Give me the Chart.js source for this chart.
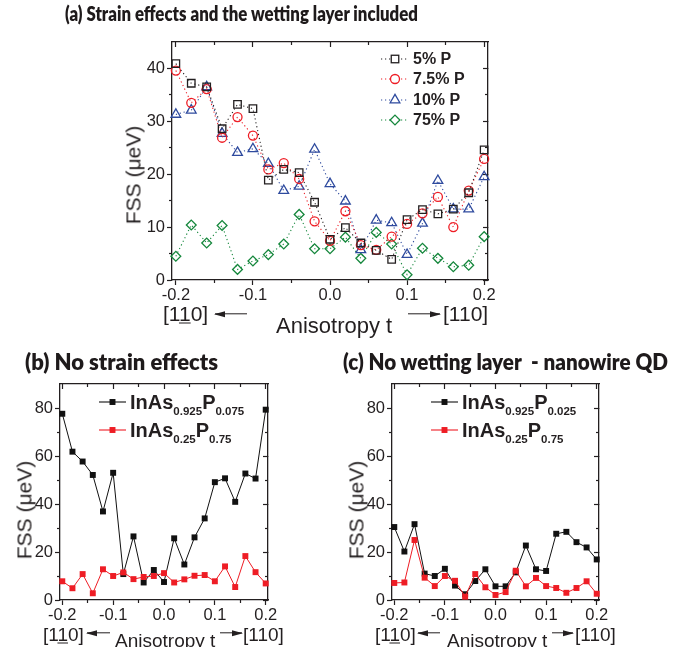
<!DOCTYPE html>
<html>
<head>
<meta charset="utf-8">
<script src="https://cdn.jsdelivr.net/npm/chart.js@4.4.1/dist/chart.umd.min.js"></script>
<style>
html,body{margin:0;padding:0;background:#fff;}
#wrap{position:relative;width:685px;height:647px;overflow:hidden;font-family:Arial,"Liberation Sans",sans-serif;color:#231f20;}
#wrap canvas{position:absolute;left:0;top:0;}
.tx{position:absolute;white-space:pre;line-height:1;transform:translateY(-50%);}
.ttl{position:absolute;white-space:pre;line-height:1;font-family:Lato,sans-serif;font-weight:800;font-size:21px;transform-origin:0 50%;color:#1e1a1b;}
.yt{position:absolute;white-space:nowrap;line-height:1;font-size:21px;transform:translate(-50%,-50%) rotate(-90deg);}
.arr{position:absolute;height:1.4px;background:#231f20;transform:translateY(-50%);}
.arr::after{content:"";position:absolute;top:50%;transform:translateY(-50%);border-top:3.5px solid transparent;border-bottom:3.5px solid transparent;}
.arr.l::after{left:-1px;border-right:11px solid #231f20;}
.arr.r::after{right:-1px;border-left:11px solid #231f20;}
.lg{position:absolute;display:flex;align-items:center;transform:translateY(-50%);font-weight:700;white-space:nowrap;line-height:1;}
.lg svg{margin-right:4px;display:block;}
.sb{font-size:11.5px;position:relative;top:6px;}
u{text-underline-offset:2px;text-decoration-thickness:1.3px;}
</style>
</head>
<body>
<div id="wrap">
<canvas id="ca" width="685" height="647"></canvas>
<canvas id="cb" width="685" height="647"></canvas>
<canvas id="cc" width="685" height="647"></canvas>

<div class="ttl" id="ta" style="left:65px;top:14px;font-size:21.5px">(a) Strain effects and the wetting layer included</div>
<div class="ttl" id="tb" style="left:25px;top:362px;font-size:22px">(b) No strain effects</div>
<div class="ttl" id="tc" style="left:343px;top:362px;font-size:22px">(c) No wetting layer  - nanowire QD</div>

<div class="yt" style="left:133px;top:175px">FSS (μeV)</div>
<div class="yt" style="left:24px;top:510px">FSS (μeV)</div>
<div class="yt" style="left:356px;top:510px">FSS (μeV)</div>

<div class="tx" style="left:163px;top:313px;font-size:21px">[1<u>1</u>0]</div>
<div class="arr l" style="left:215px;top:314px;width:32px"></div>
<div class="tx" style="left:276px;top:326px;font-size:22px">Anisotropy t</div>
<div class="arr r" style="left:408px;top:314px;width:32px"></div>
<div class="tx" style="left:443px;top:313px;font-size:21px">[110]</div>

<div class="tx" style="left:43px;top:634px;font-size:19px">[1<u>1</u>0]</div>
<div class="arr l" style="left:87px;top:633px;width:23px"></div>
<div class="tx" style="left:115px;top:640px;font-size:19px">Anisotropy t</div>
<div class="arr r" style="left:220px;top:633px;width:22px"></div>
<div class="tx" style="left:243px;top:634px;font-size:19px">[110]</div>

<div class="tx" style="left:375px;top:634px;font-size:19px">[1<u>1</u>0]</div>
<div class="arr l" style="left:418px;top:633px;width:22px"></div>
<div class="tx" style="left:447px;top:640px;font-size:19px">Anisotropy t</div>
<div class="arr r" style="left:552px;top:633px;width:21px"></div>
<div class="tx" style="left:575px;top:634px;font-size:19px">[110]</div>
</div>

<script>
// ---------- data ----------
const T = [-0.2, -0.18, -0.16, -0.14, -0.12, -0.1, -0.08, -0.06, -0.04, -0.02, 0, 0.02, 0.04, 0.06, 0.08, 0.1, 0.12, 0.14, 0.16, 0.18, 0.2];
const X_MAJOR = [-0.2, -0.1, 0, 0.1, 0.2];
const X_MINOR = [-0.15, -0.05, 0.05, 0.15];
const YA_MAJOR = [0, 10, 20, 30, 40];
const YA_MINOR = [5, 15, 25, 35];
const YB_MAJOR = [0, 20, 40, 60, 80];
const YB_MINOR = [10, 30, 50, 70];

// (a) Strain effects and the wetting layer included
const A_LABELS = ['5% P', '7.5% P', '10% P', '75% P'];
const A_P5   = [40.9, 37.2, 36.5, 28.6, 33.2, 32.4, 18.9, 20.9, 20.3, 14.7, 7.7, 9.9, 7.0, 5.6, 3.9, 11.4, 13.3, 12.5, 13.4, 16.5, 24.6];
const A_P7_5 = [39.6, 33.5, 36.1, 26.9, 30.8, 27.3, 20.9, 22.1, 19.1, 11.1, 7.4, 13.0, 6.6, 5.7, 8.2, 10.6, 12.6, 15.7, 10.0, 16.9, 22.9];
const A_P10  = [31.3, 32.1, 36.5, 27.7, 24.1, 24.8, 22.0, 16.9, 17.7, 24.7, 18.2, 14.9, 5.7, 11.3, 10.8, 4.8, 10.7, 18.8, 13.4, 13.4, 19.5];
const A_P75  = [4.5, 10.4, 7.0, 10.3, 2.0, 3.6, 4.8, 6.8, 12.4, 5.9, 5.9, 8.1, 4.1, 9.0, 6.8, 1.0, 6.0, 4.1, 2.5, 2.8, 8.2];

// (b) No strain effects
const B_LABELS = [['InAs', '0.925', 'P', '0.075'], ['InAs', '0.25', 'P', '0.75']];
const B_HIGH_AS = [77.6, 61.8, 57.7, 52.1, 36.9, 53.0, 10.8, 26.5, 7.3, 12.5, 7.5, 25.7, 14.8, 26.1, 34.0, 49.1, 50.7, 40.9, 52.7, 50.6, 79.3];
const B_HIGH_P  = [7.8, 4.9, 10.8, 2.8, 12.8, 10.0, 11.5, 8.7, 9.6, 10.0, 11.2, 7.3, 8.6, 10.1, 10.4, 7.8, 14.0, 5.4, 18.3, 11.6, 6.9];

// (c) No wetting layer - nanowire QD
const C_LABELS = [['InAs', '0.925', 'P', '0.025'], ['InAs', '0.25', 'P', '0.75']];
const C_HIGH_AS = [30.4, 20.2, 31.6, 11.0, 10.0, 13.0, 6.0, 2.4, 7.9, 12.8, 5.7, 5.7, 11.5, 22.7, 12.8, 12.1, 27.6, 28.4, 24.1, 21.9, 16.9];
const C_HIGH_P  = [7.1, 7.3, 25.0, 9.3, 5.8, 10.0, 8.0, 1.4, 10.8, 5.3, 2.1, 3.3, 12.2, 5.7, 9.2, 5.8, 5.0, 3.0, 5.0, 7.8, 2.6];

// ---------- styles ----------
const FONT = 'Arial, "Liberation Sans", sans-serif';
const INK = '#231f20';
Chart.defaults.font.family = FONT;
Chart.defaults.color = INK;

const A_STYLE = [
  {color: '#231f20', shape: 'rect', r: 5.3},
  {color: '#ee1d25', shape: 'circle', r: 4.5},
  {color: '#2e4a9e', shape: 'triangle', r: 5.6},
  {color: '#15873c', shape: 'rectRot', r: 4.9}
];
const BC_STYLE = [
  {color: '#111111', shape: 'rect', r: 4.2},
  {color: '#ee1d25', shape: 'rect', r: 4.2}
];

const LABEL_BOX = 50;   // room kept for tick labels of the main axes
function axis(pos, range, ticks, tl, labels, weight, border, fmt) {
  const horiz = pos === 'top' || pos === 'bottom';
  const size = labels ? LABEL_BOX : 0;
  return {
    type: 'linear', position: pos, axis: horiz ? 'x' : 'y',
    min: range[0], max: range[1], weight: weight, bounds: 'data',
    afterBuildTicks: s => { s.ticks = ticks.map(v => ({value: v})); },
    afterFit: s => { if (horiz) s.height = size; else s.width = size; },
    grid: {display: true, drawOnChartArea: false, drawTicks: true, tickLength: tl,
           color: INK, tickColor: INK, tickWidth: 1.2},
    border: {display: border, color: INK, width: 1.3},
    ticks: labels ? {display: true, color: INK, font: {family: FONT, size: 16.5},
                     padding: horiz ? 1 : 2, callback: fmt, autoSkip: false, maxRotation: 0, minRotation: 0}
                  : {display: false}
  };
}
function scalesFor(xr, yr, yMaj, yMin) {
  return {
    x:   axis('bottom', xr, X_MAJOR, 5, true, 2, true, v => v.toFixed(1)),
    xm:  axis('bottom', xr, X_MINOR, 3, false, 1, false),
    xt:  axis('top', xr, X_MAJOR, -5, false, 2, true),
    xtm: axis('top', xr, X_MINOR, -3, false, 1, false),
    y:   axis('left', yr, yMaj, 5, true, 2, true, v => String(v)),
    ym:  axis('left', yr, yMin, 3, false, 1, false),
    yr:  axis('right', yr, yMaj, -5, false, 2, true),
    yrm: axis('right', yr, yMin, -3, false, 1, false)
  };
}
// plot box (left, top, right, bottom) -> layout padding
function pad(l, t, r, b) {
  return {left: l - LABEL_BOX, top: t, right: 685 - r, bottom: 647 - b - LABEL_BOX};
}
function opts(padding, scales) {
  return {
    responsive: false, animation: false, events: [],
    layout: {padding},
    plugins: {legend: {display: false}, tooltip: {enabled: false}},
    scales
  };
}
function series(vals) { return T.map((t, i) => ({x: t, y: vals[i]})); }

// (a)
const A_SERIES = [A_P5, A_P7_5, A_P10, A_P75];
new Chart(document.getElementById('ca'), {
  type: 'scatter',
  data: {datasets: A_SERIES.map((vals, k) => ({
    label: A_LABELS[k], data: series(vals), showLine: true,
    borderColor: A_STYLE[k].color, borderWidth: 1.1, borderDash: [1.2, 2.8],
    pointStyle: A_STYLE[k].shape, pointRadius: A_STYLE[k].r, pointBorderWidth: 1.3,
    pointBorderColor: A_STYLE[k].color, pointBackgroundColor: 'rgba(255,255,255,0)',
    clip: false, order: k
  }))},
  options: opts(pad(172, 42, 488, 280), scalesFor([-0.205, 0.205], [0, 45], YA_MAJOR, YA_MINOR))
});

function bcChart(id, labels, sets, padding) {
  return new Chart(document.getElementById(id), {
    type: 'scatter',
    data: {datasets: sets.map((vals, k) => ({
      label: labels[k].join(''), data: series(vals), showLine: true,
      borderColor: BC_STYLE[k].color, borderWidth: 1,
      pointStyle: BC_STYLE[k].shape, pointRadius: BC_STYLE[k].r, pointBorderWidth: 0,
      pointBackgroundColor: BC_STYLE[k].color, pointBorderColor: BC_STYLE[k].color,
      clip: false, order: 1 - k
    }))},
    options: opts(padding, scalesFor([-0.2045, 0.2045], [0, 90], YB_MAJOR, YB_MINOR))
  });
}
bcChart('cb', B_LABELS, [B_HIGH_AS, B_HIGH_P], pad(60, 384, 268, 600));
bcChart('cc', C_LABELS, [C_HIGH_AS, C_HIGH_P], pad(392, 384, 599, 600));

// ---------- legends (HTML, from the dataset styles) ----------
function markerSvg(st, w, h, filled, dashed) {
  const cx = w / 2, cy = h / 2, r = st.r, c = st.color;
  const fill = filled ? c : '#fff';
  let shape = '';
  if (st.shape === 'rect') {
    const s = r * Math.SQRT2;
    shape = `<rect x="${cx - s / 2}" y="${cy - s / 2}" width="${s}" height="${s}" fill="${fill}" stroke="${c}" stroke-width="${filled ? 0 : 1.3}"/>`;
  } else if (st.shape === 'circle') {
    shape = `<circle cx="${cx}" cy="${cy}" r="${r}" fill="${fill}" stroke="${c}" stroke-width="1.3"/>`;
  } else if (st.shape === 'triangle') {
    const p = [[cx, cy - r], [cx + 0.866 * r, cy + 0.5 * r], [cx - 0.866 * r, cy + 0.5 * r]];
    shape = `<polygon points="${p.map(q => q.join(',')).join(' ')}" fill="${fill}" stroke="${c}" stroke-width="1.3"/>`;
  } else {
    const p = [[cx, cy - r], [cx + r, cy], [cx, cy + r], [cx - r, cy]];
    shape = `<polygon points="${p.map(q => q.join(',')).join(' ')}" fill="${fill}" stroke="${c}" stroke-width="1.3"/>`;
  }
  const line = `<line x1="0" y1="${cy}" x2="${w}" y2="${cy}" stroke="${c}" stroke-width="1.1" ${dashed ? 'stroke-dasharray="1.2 2.8"' : ''}/>`;
  return `<svg width="${w}" height="${h}" viewBox="0 0 ${w} ${h}">${line}${shape}</svg>`;
}
const wrap = document.getElementById('wrap');
function addRow(left, top, html, size) {
  const d = document.createElement('div');
  d.className = 'lg';
  d.style.left = left + 'px'; d.style.top = top + 'px'; d.style.fontSize = size + 'px';
  d.innerHTML = html;
  wrap.appendChild(d);
}
const A_ROWS = [59, 79, 100, 120];
A_LABELS.forEach((lab, k) => addRow(381, A_ROWS[k], markerSvg(A_STYLE[k], 28, 16, false, true) + '<span>' + lab + '</span>', 16));
function subLabel(parts) {
  return '<span>' + parts[0] + '<span class="sb">' + parts[1] + '</span>' + parts[2] + '<span class="sb">' + parts[3] + '</span></span>';
}
const BC_ROWS = [402, 430];
B_LABELS.forEach((parts, k) => addRow(99, BC_ROWS[k], markerSvg(BC_STYLE[k], 27, 14, true, false) + subLabel(parts), 20));
C_LABELS.forEach((parts, k) => addRow(431, BC_ROWS[k], markerSvg(BC_STYLE[k], 27, 14, true, false) + subLabel(parts), 20));

// squeeze the panel titles horizontally to the reference widths (Calibri-like narrow bold)
function fitWidth(id, w) {
  const el = document.getElementById(id);
  const cur = el.getBoundingClientRect().width;
  el.style.transform = 'translateY(-50%) scaleX(' + (w / cur) + ')';
}
fitWidth('ta', 353);
fitWidth('tb', 193);
fitWidth('tc', 325);
</script>
</body>
</html>
